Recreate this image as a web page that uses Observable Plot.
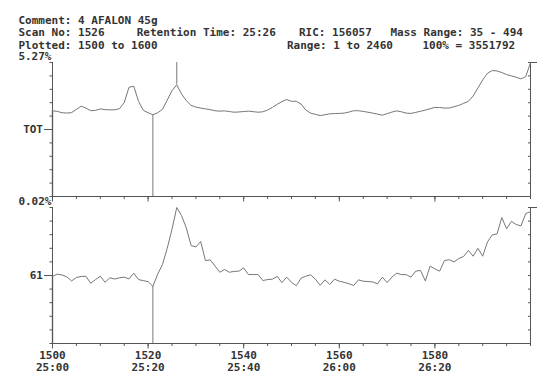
<!DOCTYPE html>
<html><head><meta charset="utf-8">
<script src="https://cdn.jsdelivr.net/npm/d3@7"></script>
<script src="https://cdn.jsdelivr.net/npm/@observablehq/plot@0.6"></script>
<style>
body{margin:0;background:#fff;}
#wrap{position:relative;width:550px;height:387px;overflow:hidden;font-family:"DejaVu Sans Mono",monospace;font-size:11px;font-weight:bold;color:#333;}
.h{position:absolute;white-space:pre;line-height:12px;}
#wrap svg{position:absolute;left:0;background:transparent;overflow:visible;}
</style></head><body><div id="wrap"></div>
<script>
// ---- data ----
const scans = d3.range(1500, 1601);
const totValues = [
 64,63.5,62.5,62.3,62.6,65,67.4,66,64,64.3,
 65.4,64.8,64.7,64.7,65.5,70,81.5,82.3,71,64.3,
 62.5,61,62.5,65,72,79,83.3,76.5,71.5,68,
 66.7,66,65.4,64.8,64,63.7,63.9,63.4,62.9,63.1,
 63.4,63.7,63.3,62.9,63.2,64.5,66.5,68.8,70.8,72.4,
 71,71.1,69,64.5,62.2,61.3,60.4,61,61.7,61.9,
 62,62.2,63,64,64,63.5,62.9,62.2,61.5,60.7,
 61.8,63,63.9,63.2,62.2,62,62.8,63.6,64.5,65.5,
 66.5,66.4,66,66,67,68,69.5,71,75,81,
 87,92,94,93.7,92.5,91,90,89,87.8,89.5,99.8];
const ionValues = [
 49.5,51,50.4,49,46,48.5,49.3,49.4,44.3,47,
 49.5,45,48.3,47.4,48.3,48.8,47.5,51.7,47,46.2,
 45.5,42,51,58,70,84,100,94,85,72,
 71,75,61,61.4,57,52.4,54.4,52.4,53,53.2,
 55.6,50.7,50.7,50.7,46.3,47,47.3,49.3,44.8,48.8,
 45,42.5,48,49.5,50.5,47.3,42.8,46.8,43.4,47.3,
 45.8,45,44,42.6,46.8,45.8,45.6,45.2,43.9,48.8,
 44.8,48.8,51.7,50.7,50.6,48.8,53.2,53.7,46,56.9,
 54.9,53.2,61,61.6,60,62.5,64,68.4,64.2,70,
 64.2,74.7,79.8,80.6,92.6,84.3,89.8,87.5,86.5,95.5,97];
const panelLabels = ["TOT", "61"];
const rangeLabels = ["5.27%", "0.02%"];
const majorTicks = [1500, 1520, 1540, 1560, 1580];
const timeLabels = ["25:00", "25:20", "25:40", "26:00", "26:20"];
const minorTicks = d3.range(1500, 1601, 5);
const yTicks = d3.range(0, 101, 10);
const scanMarker = 1526;
const backgroundMarker = 1521;
const headerRows = [
 [["Comment: 4 AFALON 45g", 18.5]],
 [["Scan No: 1526", 18.5], ["Retention Time: 25:26", 136.7], ["RIC: 156057", 299], ["Mass Range: 35 - 494", 390.5]],
 [["Plotted: 1500 to 1600", 18.5], ["Range: 1 to 2460", 287], ["100% = 3551792", 422.5]]
];

// ---- layout ----
const wrap = document.getElementById("wrap");
const FONT = "DejaVu Sans Mono";
const INK = "#333", AXIS = "#555", TRACE = "#777";
const headerY = [20.5, 33, 45.5];
headerRows.forEach((row, r) => row.forEach(([t, x]) => {
  const s = document.createElement("div");
  s.className = "h"; s.textContent = t;
  s.style.left = x + "px"; s.style.top = (headerY[r] - 6) + "px";
  wrap.appendChild(s);
}));

function panel(values, idx, opts) {
  const rows = scans.map((s, i) => ({scan: s, value: values[i]}));
  const bg = rows.filter(d => d.scan === backgroundMarker);
  const sc = rows.filter(d => d.scan === scanMarker);
  const txt = {fontFamily: FONT, fontSize: 11, fontWeight: "bold", fill: INK};
  const marks = [
    Plot.ruleX([1500, 1600], {stroke: AXIS}),
    Plot.ruleY([0], {stroke: AXIS}),
    Plot.ruleX(rows.slice(0, 1), {x: "scan", y1: 0, y2: "value", stroke: AXIS, strokeWidth: 1.3}),
    Plot.axisY({ticks: yTicks, anchor: "left", tickSize: 2.5, tickFormat: () => "", label: null, stroke: AXIS}),
    Plot.axisY({ticks: [50], anchor: "left", tickSize: 8, tickFormat: () => "", label: null, stroke: AXIS}),
    Plot.axisY({ticks: yTicks, anchor: "right", tickSize: 3, dx: -3, tickFormat: () => "", label: null, stroke: AXIS}),
    Plot.axisY({ticks: [100], anchor: "right", tickSize: 6, tickFormat: () => "", label: null, stroke: AXIS}),
    Plot.axisX({ticks: minorTicks, anchor: "bottom", tickSize: 3, tickFormat: () => "", label: null, stroke: AXIS}),
    Plot.axisX({ticks: majorTicks, anchor: "bottom", tickSize: 5.5, tickFormat: () => "", label: null, stroke: AXIS}),
    Plot.ruleX(bg, {x: "scan", y1: 0, y2: "value", stroke: TRACE}),
    Plot.line(rows, {x: "scan", y: "value", stroke: TRACE, strokeWidth: 1}),
    Plot.text([panelLabels[idx]], {x: 1500, y: 50, text: d => d, dx: -9.5, textAnchor: "end", ...txt}),
    Plot.text([rangeLabels[idx]], {x: 1500, y: 100, text: d => d, dx: -1, dy: -6, textAnchor: "end", ...txt})
  ];
  if (idx === 0) marks.push(Plot.ruleX(sc, {x: "scan", y1: "value", y2: 100, stroke: TRACE}));
  if (opts.labels) marks.push(Plot.text(majorTicks, {x: d => d, frameAnchor: "bottom", dy: 17.8, lineHeight: 1.05,
      text: (d, i) => `${d}\n${timeLabels[i]}`, textAnchor: "middle", lineAnchor: "middle", ...txt}));
  const svg = Plot.plot({
    width: 550, height: opts.height,
    marginTop: opts.mt, marginBottom: opts.mb, marginLeft: 52, marginRight: 20,
    x: {domain: [1500, 1600]},
    y: {domain: [0, 100]},
    style: {background: "transparent", overflow: "visible"},
    marks
  });
  svg.style.top = opts.top + "px";
  wrap.appendChild(svg);
}
panel(totValues, 0, {top: 0, height: 205, mt: 62, mb: 9, labels: false});
panel(ionValues, 1, {top: 195, height: 192, mt: 12, mb: 44, labels: true});
</script></body></html>
